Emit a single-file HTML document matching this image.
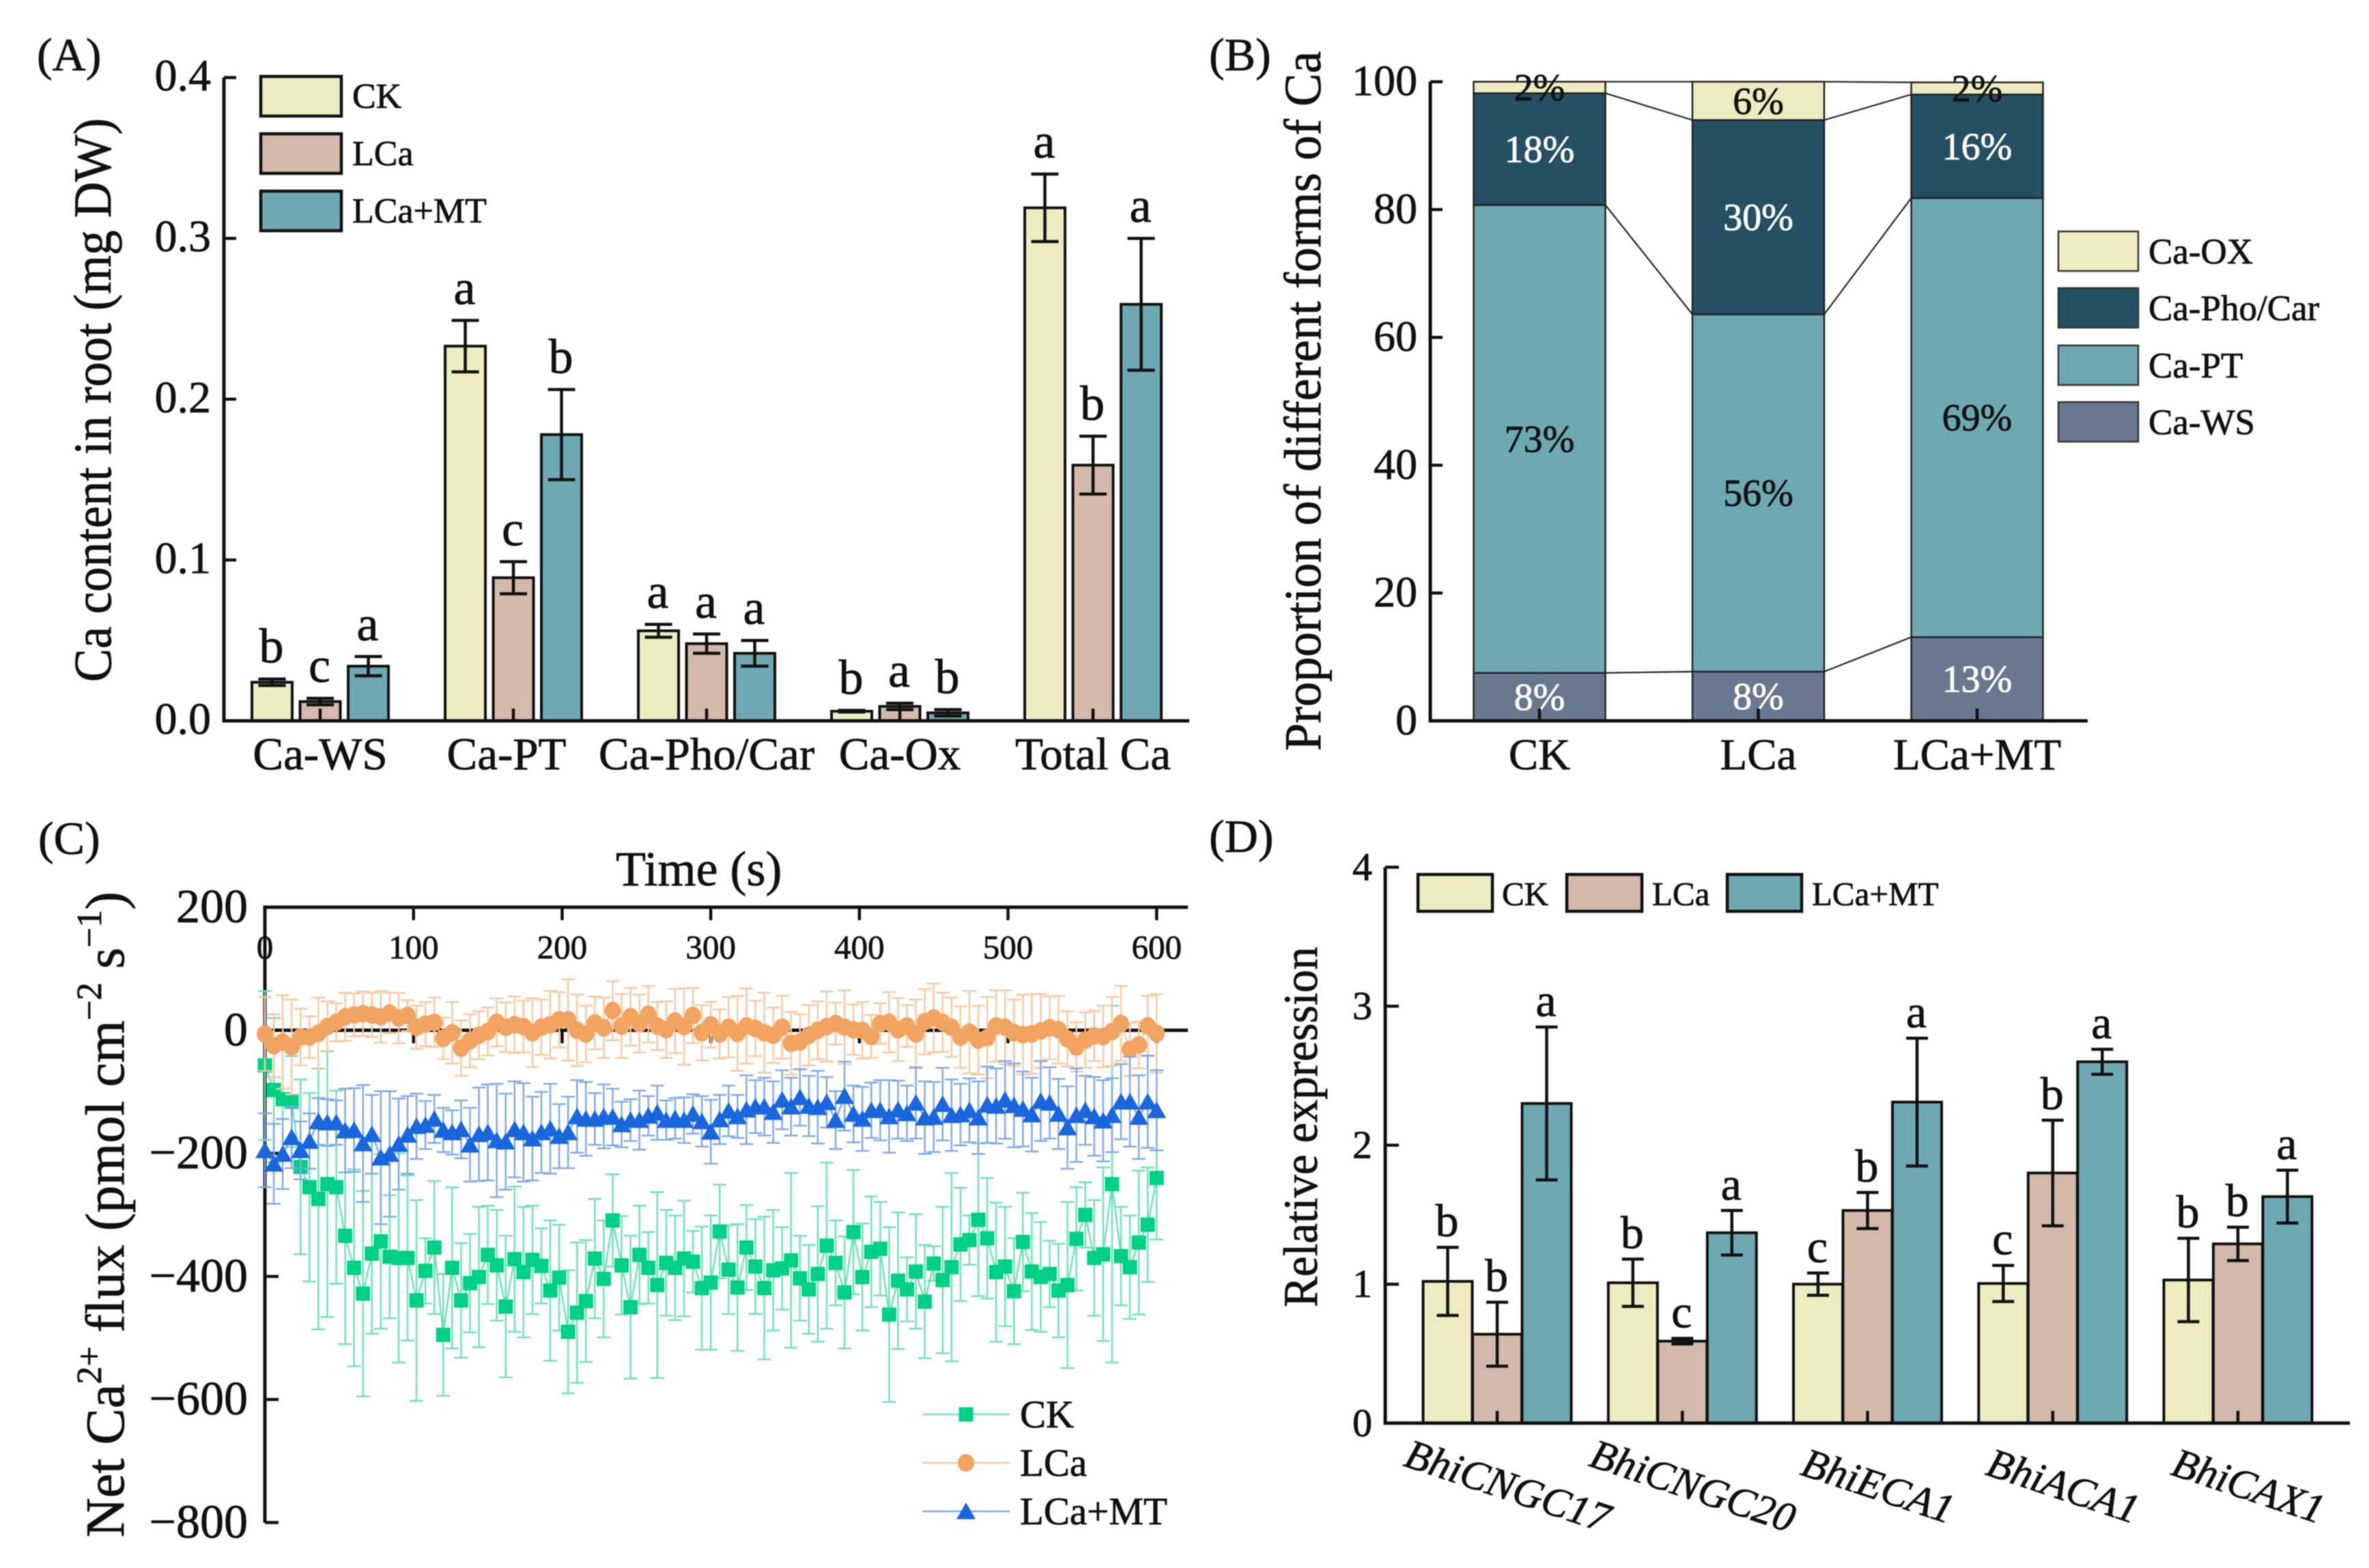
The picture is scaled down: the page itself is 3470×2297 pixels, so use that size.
<!DOCTYPE html>
<html lang="en">
<head>
<meta charset="utf-8">
<title>Ca content, forms, flux and gene expression</title>
<style>
html,body{margin:0;padding:0;background:#fff;}
svg{display:block;font-family:"Liberation Serif","Noto Serif CJK SC",serif;fill:#111;filter:blur(0.7px);}
svg text{stroke:#111;stroke-width:0.8px;}
svg text[fill="#fff"]{stroke:#fff;}
</style>
</head>
<body>
<svg id="chart" xmlns="http://www.w3.org/2000/svg" width="3470" height="2297" viewBox="0 0 3470 2297">
<rect width="3470" height="2297" fill="#fff"/>

<g id="panelA">
  <text x="54" y="103" font-size="68">(A)</text>
  <text transform="translate(162,999) rotate(-90)" font-size="78" textLength="826" lengthAdjust="spacingAndGlyphs">Ca content in root (mg DW)</text>
  <g>
    <rect x="382" y="112" width="118" height="58" fill="#EDEBBF" stroke="#111" stroke-width="4.5"/>
    <text x="516" y="158" font-size="52">CK</text>
    <rect x="382" y="196" width="118" height="58" fill="#D3B9AB" stroke="#111" stroke-width="4.5"/>
    <text x="516" y="242" font-size="52">LCa</text>
    <rect x="382" y="280" width="118" height="58" fill="#6EA9B1" stroke="#111" stroke-width="4.5"/>
    <text x="516" y="326" font-size="52">LCa+MT</text>
  </g>
</g>

<g id="panelB">
  <text x="1771" y="103" font-size="68">(B)</text>
  <text transform="translate(1934,1100) rotate(-90)" font-size="76" textLength="1025" lengthAdjust="spacingAndGlyphs">Proportion of different forms of Ca</text>
  <g>
    <rect x="3015" y="339" width="117" height="58" fill="#EDEBBF" stroke="#333" stroke-width="2.5"/>
    <text x="3147" y="386" font-size="53">Ca-OX</text>
    <rect x="3015" y="422" width="117" height="58" fill="#254F63" stroke="#333" stroke-width="2.5"/>
    <text x="3147" y="469" font-size="53">Ca-Pho/Car</text>
    <rect x="3015" y="506" width="117" height="58" fill="#6EA9B1" stroke="#333" stroke-width="2.5"/>
    <text x="3147" y="553" font-size="53">Ca-PT</text>
    <rect x="3015" y="589" width="117" height="58" fill="#69788F" stroke="#333" stroke-width="2.5"/>
    <text x="3147" y="636" font-size="53">Ca-WS</text>
  </g>
</g>

<g id="panelC">
  <text x="56" y="1251" font-size="68">(C)</text>
  <text x="902" y="1297" font-size="72">Time (s)</text>
  <text transform="translate(181,2252) rotate(-90)" font-size="80">Net Ca<tspan font-size="52" dy="-33">2+</tspan><tspan dy="33"> flux (pmol cm</tspan><tspan font-size="52" dy="-33">−2</tspan><tspan dy="33"> s</tspan><tspan font-size="52" dy="-33">−1</tspan><tspan dy="33">)</tspan></text>
</g>

<g id="panelD">
  <text x="1771" y="1248" font-size="68">(D)</text>
  <text transform="translate(1929,1915) rotate(-90)" font-size="71" textLength="528" lengthAdjust="spacingAndGlyphs">Relative expression</text>
  <g>
    <rect x="2077" y="1281" width="109" height="54" fill="#EDEBBF" stroke="#111" stroke-width="4.5"/>
    <text x="2200" y="1326" font-size="49">CK</text>
    <rect x="2295" y="1281" width="110" height="54" fill="#D3B9AB" stroke="#111" stroke-width="4.5"/>
    <text x="2420" y="1326" font-size="49">LCa</text>
    <rect x="2530" y="1281" width="109" height="54" fill="#6EA9B1" stroke="#111" stroke-width="4.5"/>
    <text x="2654" y="1326" font-size="49">LCa+MT</text>
  </g>
</g>
</svg>

<script>
/* ---------- Panel A data ---------- */
const aCategories = ["Ca-WS", "Ca-PT", "Ca-Pho/Car", "Ca-Ox", "Total Ca"];
const aTicks = [0.0, 0.1, 0.2, 0.3, 0.4];
const aCK = [0.024, 0.233, 0.056, 0.006, 0.319];
const aLCa = [0.012, 0.089, 0.048, 0.009, 0.159];
const aMT = [0.034, 0.178, 0.042, 0.005, 0.259];
const aCKErr = [0.002, 0.016, 0.004, 0.0005, 0.021];
const aLCaErr = [0.002, 0.010, 0.006, 0.002, 0.018];
const aMTErr = [0.006, 0.028, 0.008, 0.002, 0.041];
const aCKLetters = ["b", "a", "a", "b", "a"];
const aLCaLetters = ["c", "c", "a", "a", "b"];
const aMTLetters = ["a", "b", "a", "b", "a"];

/* ---------- Panel B data ---------- */
const bCategories = ["CK", "LCa", "LCa+MT"];
const bTicks = [0, 20, 40, 60, 80, 100];
const bWS = [7.5, 7.7, 13.1];
const bPT = [73.2, 55.9, 68.7];
const bPho = [17.5, 30.4, 16.2];
const bOX = [1.8, 6.0, 1.9];
const bWSLabels = ["8%", "8%", "13%"];
const bPTLabels = ["73%", "56%", "69%"];
const bPhoLabels = ["18%", "30%", "16%"];
const bOXLabels = ["2%", "6%", "2%"];

/* ---------- Panel C data ---------- */
const cXTicks = [0, 100, 200, 300, 400, 500, 600];
const cYTicks = [200, 0, -200, -400, -600, -800];
const cSampleStep = 6;
const cCK = [-57,-97,-112,-116,-222,-255,-274,-250,-255,-334,-386,-428,-363,-343,-368,-370,-370,-439,-391,-353,-495,-386,-439,-411,-401,-365,-382,-449,-372,-393,-373,-383,-423,-402,-490,-459,-440,-371,
-404,-309,-382,-450,-365,-386,-414,-378,-386,-371,-376,-419,-410,-327,-389,-418,-353,-384,-419,-390,-387,-374,-403,-421,-396,-350,-378,-426,-328,-401,-360,-355,-462,-407,-421,-392,
-441,-379,-406,-385,-348,-341,-308,-338,-393,-384,-424,-344,-392,-401,-396,-423,-414,-339,-300,-370,-364,-250,-367,-385,-345,-316,-240];
const cCKErr = [121,117,100,74,142,153,212,216,157,176,160,167,130,142,100,170,134,163,53,108,99,131,93,80,114,80,90,115,118,106,88,61,114,86,100,114,99,97,
95,75,80,116,80,58,151,86,85,94,50,100,109,76,72,103,69,77,116,98,67,142,69,72,110,135,69,91,101,87,90,76,142,111,52,93,
92,28,119,153,92,40,124,98,113,97,86,80,95,89,54,76,135,84,53,94,141,290,80,84,117,93,100];
const cLCa = [-6,-25,-19,-27,-11,-11,-5,6,13,22,25,27,25,22,28,20,24,5,10,13,-13,-4,-29,-17,-8,-2,13,5,9,6,-4,5,9,17,17,0,-6,12,
4,32,7,22,11,26,7,1,15,6,24,-4,9,-6,5,-5,7,3,-4,-8,5,-21,-19,-8,0,6,11,5,1,0,-10,11,13,1,7,-6,
14,20,13,5,-11,-3,-16,-12,7,5,-4,-7,-6,-1,4,1,-14,-27,-16,-9,-10,-2,11,-31,-24,7,-5];
const cLCaErr = [60,51,76,77,46,34,58,41,31,39,35,36,36,42,33,41,25,35,36,40,34,50,45,43,39,39,39,40,46,42,56,45,55,45,66,58,46,43,
49,48,52,47,47,46,39,46,52,62,45,45,37,40,49,61,61,45,65,45,51,51,45,49,47,57,34,60,41,46,35,33,49,51,34,56,
53,56,48,48,50,67,56,66,58,60,54,65,65,60,51,55,45,40,45,41,50,56,61,43,38,49,64];
const cMT = [-195,-217,-201,-174,-195,-180,-148,-150,-150,-163,-162,-184,-169,-207,-201,-185,-170,-156,-154,-144,-162,-166,-161,-186,-169,-166,-179,-181,-161,-166,-176,-166,-160,-172,-166,-140,-144,-144,
-140,-141,-153,-146,-146,-139,-134,-146,-143,-146,-136,-148,-165,-145,-131,-140,-129,-124,-124,-133,-113,-124,-109,-123,-125,-117,-146,-107,-136,-144,-130,-130,-140,-129,-135,-118,
-142,-141,-120,-138,-137,-130,-142,-121,-123,-113,-122,-128,-137,-115,-118,-136,-158,-138,-130,-140,-147,-138,-116,-116,-141,-116,-130];
const cMTErr = [60,65,57,50,47,45,38,38,36,68,68,95,64,108,102,74,63,53,39,39,36,36,47,60,76,78,92,78,78,80,68,66,73,52,58,59,60,42,
52,46,37,34,48,32,44,32,33,37,32,41,52,40,41,35,56,43,47,50,48,47,46,49,59,41,47,56,46,52,45,49,59,47,45,58,
59,57,59,58,50,52,59,62,61,63,68,61,60,65,58,57,67,76,56,64,66,60,61,73,68,75,65];

/* ---------- Panel D data ---------- */
const dCategories = ["BhiCNGC17", "BhiCNGC20", "BhiECA1", "BhiACA1", "BhiCAX1"];
const dTicks = [0, 1, 2, 3, 4];
const dCK = [1.02, 1.01, 1.00, 1.005, 1.03];
const dLCa = [0.64, 0.59, 1.53, 1.80, 1.29];
const dMT = [2.30, 1.37, 2.31, 2.60, 1.63];
const dCKErr = [0.245, 0.17, 0.08, 0.13, 0.30];
const dLCaErr = [0.23, 0.02, 0.13, 0.38, 0.12];
const dMTErr = [0.55, 0.16, 0.46, 0.09, 0.19];
const dCKLetters = ["b", "b", "c", "c", "b"];
const dLCaLetters = ["b", "c", "b", "b", "b"];
const dMTLetters = ["a", "a", "a", "a", "a"];

/* ---------- helpers ---------- */
const NS = "http://www.w3.org/2000/svg";
function add(parent, tag, attrs) {
  const node = document.createElementNS(NS, tag);
  for (const k in attrs) node.setAttribute(k, attrs[k]);
  parent.appendChild(node);
  return node;
}
function addText(parent, str, x, y, size, anchor, fill) {
  const node = add(parent, "text", {x: x, y: y, "font-size": size, "text-anchor": anchor || "start", fill: fill || "#111"});
  node.textContent = str;
  return node;
}
const COL_CK = "#EDEBBF", COL_LCA = "#D3B9AB", COL_MT = "#6EA9B1", COL_PHO = "#254F63", COL_WS = "#69788F";
const INK = "#111";

/* ---------- axis functions ---------- */
const xA = i => 469 + i * 283;
const yA = v => 1056 - v * 2356;
const xB = i => 2255 + i * 320.5;
const yB = p => 1056 - p * 9.363;
const xC = t => 388 + t * 2.177;
const yC = v => 1509.3 - v * 0.9014;
const xD = i => 2193 + i * 271.25;
const yD = v => 2084.8 - v * 203.6;

/* ---------- grouped bars (panels A and D) ---------- */
function drawGrouped(host, prefix, sx, sy, n, offset, bw, capW, gap, fontSize, series) {
  series.forEach(function (s) {
    for (let i = 0; i < n; i++) {
      const cx = sx(i) + s.shift * offset;
      const top = sy(s.values[i]);
      const bar = add(host, "rect", {x: cx - bw / 2, y: top, width: bw, height: sy(0) - top, fill: s.color, stroke: INK, "stroke-width": 4});
      
      
    }
  });
  series.forEach(function (s) {
    for (let i = 0; i < n; i++) {
      const cx = sx(i) + s.shift * offset;
      const hi = sy(s.values[i] + s.errs[i]);
      const lo = sy(s.values[i] - s.errs[i]);
      const err = add(host, "path", {d: "M" + cx + " " + hi + "V" + lo + "M" + (cx - capW / 2) + " " + hi + "H" + (cx + capW / 2) + "M" + (cx - capW / 2) + " " + lo + "H" + (cx + capW / 2), fill: "none", stroke: INK, "stroke-width": 4.5});
      
      
      const letter = addText(host, s.letters[i], cx - 1, hi - gap, fontSize, "middle");
      
      
    }
  });
}

/* ---------- Panel A ---------- */
const panelA = document.getElementById("panelA");
drawGrouped(panelA, "a", xA, yA, aCategories.length, 70.5, 59, 40, 24, 72, [
  {key: "ck", shift: -1, color: COL_CK, values: aCK, errs: aCKErr, letters: aCKLetters},
  {key: "lca", shift: 0, color: COL_LCA, values: aLCa, errs: aLCaErr, letters: aLCaLetters},
  {key: "lca-mt", shift: 1, color: COL_MT, values: aMT, errs: aMTErr, letters: aMTLetters}
]);
const aAxis = add(panelA, "path", {d: "M328 " + yA(0.4) + "V" + yA(0) + "H1742", fill: "none", stroke: INK, "stroke-width": 5});


aTicks.forEach(function (t) {
  const tick = add(panelA, "line", {x1: 328, x2: 346, y1: yA(t), y2: yA(t), stroke: INK, "stroke-width": 4.5});
  
  
  const lab = addText(panelA, t.toFixed(1), 309, yA(t) + 19, 66, "end");
  
  
});
aCategories.forEach(function (c, i) {
  const tick = add(panelA, "line", {x1: xA(i), x2: xA(i), y1: 1056, y2: 1038, stroke: INK, "stroke-width": 4.5});
  
  
  const lab = addText(panelA, c, xA(i) - (i === 1 ? 10 : 0), 1127, 67, "middle");
  
  
});

/* ---------- Panel B ---------- */
const panelB = document.getElementById("panelB");
const bStacks = [
  {key: "ca-ws", color: COL_WS, values: bWS, labels: bWSLabels, ink: "#fff"},
  {key: "ca-pt", color: COL_MT, values: bPT, labels: bPTLabels, ink: "#111"},
  {key: "ca-pho-car", color: COL_PHO, values: bPho, labels: bPhoLabels, ink: "#fff"},
  {key: "ca-ox", color: COL_CK, values: bOX, labels: bOXLabels, ink: "#111"}
];
const bBarW = 193;
const bTotals = bCategories.map(function () { return 0; });
bStacks.forEach(function (st) {
  const prev = bTotals.slice();
  bCategories.forEach(function (c, i) {
    const y0 = yB(bTotals[i]);
    const y1 = yB(bTotals[i] + st.values[i]);
    const seg = add(panelB, "rect", {x: xB(i) - bBarW / 2, y: y1, width: bBarW, height: y0 - y1, fill: st.color, stroke: "#222", "stroke-width": 2.5});
    
    
    bTotals[i] += st.values[i];
  });
  for (let i = 0; i + 1 < bCategories.length; i++) {
    const link = add(panelB, "line", {x1: xB(i) + bBarW / 2, x2: xB(i + 1) - bBarW / 2, y1: yB(bTotals[i]), y2: yB(bTotals[i + 1]), stroke: "#222", "stroke-width": 2.2});
    
    
  }
  bCategories.forEach(function (c, i) {
    const mid = prev[i] + st.values[i] / 2;
    const lab = addText(panelB, st.labels[i], xB(i), yB(mid) + 19, 56, "middle", st.ink);
    
    
  });
});
const bAxis = add(panelB, "path", {d: "M2095 " + yB(100) + "V" + yB(0) + "H3058", fill: "none", stroke: INK, "stroke-width": 5});


bTicks.forEach(function (t) {
  const tick = add(panelB, "line", {x1: 2095, x2: 2113, y1: yB(t), y2: yB(t), stroke: INK, "stroke-width": 4.5});
  
  
  const lab = addText(panelB, String(t), 2076, yB(t) + 20, 64, "end");
  
  
});
bCategories.forEach(function (c, i) {
  const tick = add(panelB, "line", {x1: xB(i), x2: xB(i), y1: 1056, y2: 1038, stroke: INK, "stroke-width": 4.5});
  
  
  const lab = addText(panelB, c, xB(i), 1127, 65, "middle");
  
  
});

/* ---------- Panel C ---------- */
const panelC = document.getElementById("panelC");
const cAxis = add(panelC, "path", {d: "M1740 " + yC(200) + "H" + xC(0) + "V" + yC(-800), fill: "none", stroke: INK, "stroke-width": 5});


const cZero = add(panelC, "line", {x1: xC(0), x2: 1740, y1: yC(0), y2: yC(0), stroke: INK, "stroke-width": 5});


cYTicks.forEach(function (t) {
  const tick = add(panelC, "line", {x1: xC(0), x2: xC(0) + 20, y1: yC(t), y2: yC(t), stroke: INK, "stroke-width": 4.5});
  
  
  const lab = addText(panelC, String(t).replace("-", "\u2212"), 363, yC(t) + 22, 70, "end");
  
  
});
cXTicks.forEach(function (t) {
  const top = add(panelC, "line", {x1: xC(t), x2: xC(t), y1: yC(200), y2: yC(200) + 19, stroke: INK, "stroke-width": 4.5});
  
  
  const mid = add(panelC, "line", {x1: xC(t), x2: xC(t), y1: yC(0), y2: yC(0) + 19, stroke: INK, "stroke-width": 4.5});
  
  
  const lab = addText(panelC, String(t), xC(t), 1404, 49, "middle");
  
  
});
function drawMarker(parent, kind, x, y, color) {
  if (kind === "square") return add(parent, "rect", {x: x - 10.5, y: y - 10.5, width: 21, height: 21, fill: color});
  if (kind === "circle") return add(parent, "ellipse", {cx: x, cy: y, rx: 12, ry: 13, fill: color});
  return add(parent, "polygon", {points: (x) + "," + (y - 13) + " " + (x + 14) + "," + (y + 11.5) + " " + (x - 14) + "," + (y + 11.5), fill: color});
}
const cSeries = [
  {key: "ck", kind: "square", color: "#00D084", soft: "#6FE0B6", values: cCK, errs: cCKErr},
  {key: "lca", kind: "circle", color: "#F1A461", soft: "#F8C8A0", values: cLCa, errs: cLCaErr},
  {key: "lca-mt", kind: "triangle", color: "#1A66DC", soft: "#7EA8EE", values: cMT, errs: cMTErr}
];
cSeries.forEach(function (s) {
  const g = add(panelC, "g", {});
  
  
  s.values.forEach(function (v, i) {
    const x = xC(i * cSampleStep);
    const hi = yC(v + s.errs[i]);
    const lo = yC(v - s.errs[i]);
    const err = add(g, "path", {d: "M" + x + " " + hi + "V" + lo + "M" + (x - 10) + " " + hi + "H" + (x + 10) + "M" + (x - 10) + " " + lo + "H" + (x + 10), fill: "none", stroke: s.soft, "stroke-width": 2.5});
    
    
  });
  const linePts = s.values.map(function (v, i) { return xC(i * cSampleStep) + "," + yC(v); }).join(" ");
  const line = add(g, "polyline", {points: linePts, fill: "none", stroke: s.soft, "stroke-width": 2.5});
  
  
  s.values.forEach(function (v, i) {
    const m = drawMarker(g, s.kind, xC(i * cSampleStep), yC(v), s.color);
    
    
  });
});
cSeries.forEach(function (s, k) {
  const names = ["CK", "LCa", "LCa+MT"];
  const ly = 2072 + k * 71;
  const keyLine = add(panelC, "line", {x1: 1351, x2: 1479, y1: ly, y2: ly, stroke: s.soft, "stroke-width": 2.5});
  
  
  const keyMark = drawMarker(panelC, s.kind, 1415, ly, s.color);
  
  
  const keyText = addText(panelC, names[k], 1494, ly + 19, 57, "start");
  
  
});

/* ---------- Panel D ---------- */
const panelD = document.getElementById("panelD");
drawGrouped(panelD, "d", xD, yD, dCategories.length, 72.5, 72, 32, 16, 68, [
  {key: "ck", shift: -1, color: COL_CK, values: dCK, errs: dCKErr, letters: dCKLetters},
  {key: "lca", shift: 0, color: COL_LCA, values: dLCa, errs: dLCaErr, letters: dLCaLetters},
  {key: "lca-mt", shift: 1, color: COL_MT, values: dMT, errs: dMTErr, letters: dMTLetters}
]);
const dAxis = add(panelD, "path", {d: "M2029 " + yD(4) + "V" + yD(0) + "H3442", fill: "none", stroke: INK, "stroke-width": 5});


dTicks.forEach(function (t) {
  const tick = add(panelD, "line", {x1: 2029, x2: 2049, y1: yD(t), y2: yD(t), stroke: INK, "stroke-width": 4.5});
  
  
  const lab = addText(panelD, String(t), 2010, yD(t) + 19, 58, "end");
  
  
});
dCategories.forEach(function (c, i) {
  const tick = add(panelD, "line", {x1: xD(i), x2: xD(i), y1: yD(0), y2: yD(0) - 18, stroke: INK, "stroke-width": 4.5});
  
  
  const lx = xD(i) + 9;
  const lab = addText(panelD, c, lx, 2196, 61, "middle");
  lab.setAttribute("font-style", "italic");
  lab.setAttribute("transform", "rotate(18.4 " + lx + " 2196)");
  
  
});
</script>
</body>
</html>
